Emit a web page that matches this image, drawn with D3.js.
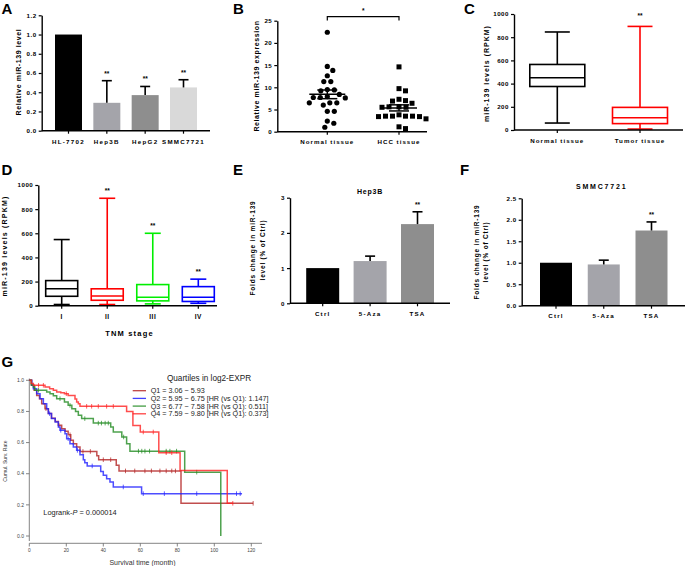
<!DOCTYPE html>
<html><head><meta charset="utf-8">
<script src="https://cdn.jsdelivr.net/npm/d3@7"></script>
<style>html,body{margin:0;padding:0;background:#fff}svg{display:block}</style>
</head><body>
<svg id="fig" width="685" height="566" xmlns="http://www.w3.org/2000/svg"></svg>
<script>
// ================= DATA =================
// Panel A
const cellLines = ["HL-7702", "Hep3B", "HepG2", "SMMC7721"];
const cellMeans = [1.0, 0.29, 0.37, 0.45];
const cellErr   = [0, 0.23, 0.09, 0.08];
const cellSig   = ["", "**", "**", "**"];
const aTicks    = [0, 0.2, 0.4, 0.6, 0.8, 1.0, 1.2];
// Panel B
const tissueGroups = ["Normal tissue", "HCC tissue"];
const normalValues = [22.4, 14.7, 13.8, 12.6, 11.3, 11.3, 9.2, 9.4, 9.5, 7.7, 7.7, 8.4, 7.9, 7.6, 6.5, 6.5, 6.0, 6.5, 4.6, 4.6, 2.4, 1.9, 1.0];
const hccValues    = [14.6, 9.2, 9.7, 7.3, 6.9, 6.4, 7.0, 5.6, 5.5, 5.6, 5.5, 3.5, 3.5, 3.4, 3.8, 3.4, 3.5, 3.5, 2.9, 0.7, 1.1];
const bTicks = [0, 5, 10, 15, 20, 25];
// Panel C
const cGroups = ["Normal tissue", "Tumor tissue"];
const cMin = [60, 8], cQ1 = [375, 55], cMed = [450, 105], cQ3 = [565, 195], cMax = [845, 893];
const cSig = ["", "**"];
const cTicks = [0, 200, 400, 600, 800, 1000];
// Panel D
const stages = ["I", "II", "III", "IV"];
const dMin = [10, 10, 15, 20], dQ1 = [78, 45, 40, 35], dMed = [140, 80, 70, 70], dQ3 = [208, 140, 175, 158], dMax = [548, 890, 600, 220];
const dSig = ["", "**", "**", "**"];
// Panels E, F
const treatments = ["Ctrl", "5-Aza", "TSA"];
const hep3bMeans = [1.0, 1.2, 2.25], hep3bErr = [0, 0.14, 0.35];
const smmcMeans  = [1.0, 0.96, 1.75], smmcErr = [0, 0.1, 0.2];
const trtSig = ["", "", "**"];
const eTicks = [0, 1, 2, 3];
const fTicks = [0, 0.5, 1.0, 1.5, 2.0, 2.5];
// Panel G (Kaplan-Meier)
const quartileLabels = ["Q1 = 3.06 ~ 5.93", "Q2 = 5.95 ~ 6.75 [HR (vs Q1): 1.147]", "Q3 = 6.77 ~ 7.58 [HR (vs Q1): 0.511]", "Q4 = 7.59 ~ 9.80 [HR (vs Q1): 0.373]"];
const q1Time = [0, 1.3, 2.6, 4, 5.5, 6.7, 8.5, 10.3, 12, 14, 15.7, 17.5, 19.3, 21, 22.4, 23.8, 25.6, 27.4, 36.5, 37.5, 47, 48.5, 82, 121];
const q1Surv = [1, 0.968, 0.936, 0.903, 0.882, 0.85, 0.818, 0.786, 0.757, 0.736, 0.711, 0.689, 0.672, 0.65, 0.615, 0.593, 0.572, 0.543, 0.515, 0.49, 0.454, 0.418, 0.21, 0.21];
const q1Censor = [9, 16, 22, 29, 33, 40, 44, 52, 57, 62.5, 66, 70.6, 74, 77, 79, 121];
const q2Time = [0, 1.3, 2.2, 4, 5.8, 7.6, 9.4, 10.3, 12, 14, 15.7, 16.6, 19.3, 20.2, 22, 23.8, 25.6, 27.4, 29.2, 30, 31.3, 38.6, 40, 41.8, 43.6, 45.4, 60.7, 115];
const q2Surv = [1, 0.968, 0.946, 0.914, 0.882, 0.85, 0.818, 0.786, 0.754, 0.732, 0.7, 0.679, 0.657, 0.625, 0.593, 0.572, 0.55, 0.522, 0.49, 0.47, 0.45, 0.415, 0.39, 0.368, 0.347, 0.315, 0.272, 0.272];
const q2Censor = [11, 17, 21, 26, 34, 50.8, 61.6, 73, 90.5, 112, 114];
const q3Time = [0, 1, 2.2, 3, 9.4, 11.2, 13, 14.8, 19, 21, 23, 25, 26.5, 28.3, 34.6, 44, 45.4, 50, 52.6, 54.4, 84, 103.5];
const q3Surv = [1, 0.97, 0.957, 0.936, 0.925, 0.914, 0.9, 0.882, 0.861, 0.839, 0.818, 0.8, 0.775, 0.754, 0.725, 0.7, 0.668, 0.636, 0.593, 0.545, 0.41, 0];
const q3Censor = [5, 16.6, 22, 30, 37.3, 39, 41, 42.7, 51, 59, 60.8, 62.5, 65, 74, 76, 79.6, 90.5];
const q4Time = [0, 1, 2.2, 8.5, 11, 13, 14.8, 17, 19, 21, 24.7, 25.6, 26.5, 27.4, 52.6, 56, 60, 70, 81.5, 107, 110];
const q4Surv = [1, 0.98, 0.968, 0.957, 0.946, 0.936, 0.925, 0.92, 0.914, 0.903, 0.88, 0.86, 0.85, 0.833, 0.80, 0.71, 0.668, 0.535, 0.42, 0.21, 0.21];
const q4Censor = [5, 7.6, 20, 31, 33.7, 37.3, 41.8, 45.4, 61.6, 67, 74, 77, 110];
const kmXTicks = [0, 20, 40, 60, 80, 100, 120];
const kmYTicks = [0, 0.2, 0.4, 0.6, 0.8, 1.0];

// ================= STYLE =================
const FONT = "'Liberation Sans', Arial, Helvetica, sans-serif";
const barColorsA = ["#000000", "#a4a4aa", "#8e8e8e", "#d9d9d9"];
const barColorsEF = ["#000000", "#a4a4aa", "#8e8e8e"];
const stageColors = ["#000000", "#ff0000", "#00ee00", "#0000ff"];
const tissueBoxColors = ["#000000", "#ff0000"];
const kmColors = ["#b22222", "#2020ff", "#228b22", "#ff2020"];

const svg = d3.select("#fig").attr("font-family", FONT);

function txt(g, x, y, s, o = {}) {
  const t = g.append("text").attr("x", x).attr("y", y).text(s)
    .attr("font-size", o.fs || 7).attr("font-weight", o.w || "bold")
    .attr("text-anchor", o.anchor || "middle").attr("fill", o.fill || "#000");
  if (o.ls) t.style("letter-spacing", o.ls + "px");
  if (o.rot) t.attr("transform", `rotate(-90,${x},${y})`);
  if (o.dy) t.attr("dy", o.dy);
  return t;
}
function ln(g, x1, y1, x2, y2, color = "#000", sw = 1.4) {
  return g.append("line").attr("x1", x1).attr("y1", y1).attr("x2", x2).attr("y2", y2)
    .attr("stroke", color).attr("stroke-width", sw);
}
function leftAxis(g, x, scale, ticks, fmt, fs = 6.2) {
  const ax = g.append("g").attr("transform", `translate(${x},0)`)
    .call(d3.axisLeft(scale).tickValues(ticks).tickFormat(fmt).tickSize(3).tickSizeOuter(0).tickPadding(2));
  ax.attr("font-family", FONT).attr("font-size", fs);
  ax.select(".domain").attr("stroke", "#000").attr("stroke-width", 1.4);
  ax.selectAll(".tick line").attr("stroke", "#000").attr("stroke-width", 1.2);
  ax.selectAll(".tick text").attr("font-weight", "bold").attr("fill", "#000").style("letter-spacing", "0.5px");
  return ax;
}
function bottomAxis(g, x0, x1, y, scale, cats, labelY, fs, ls) {
  ln(g, x0, y, x1, y, "#000", 1.4);
  cats.forEach(c => {
    ln(g, scale(c), y, scale(c), y + 3, "#000", 1.2);
    txt(g, scale(c), labelY, c, { fs: fs, ls: ls });
  });
}
function letter(x, y, s) { txt(svg, x, y, s, { fs: 15, anchor: "start" }); }

function barPanel(g, cats, means, errs, sigs, colors, x, y, bw, capW) {
  cats.forEach((c, i) => {
    const cx = x(c);
    g.append("rect").attr("x", cx - bw / 2).attr("y", y(means[i])).attr("width", bw)
      .attr("height", y(0) - y(means[i])).attr("fill", colors[i]);
    if (errs[i] > 0) {
      const top = y(means[i] + errs[i]);
      ln(g, cx, y(means[i]), cx, top, "#000", 1.6);
      ln(g, cx - capW / 2, top, cx + capW / 2, top, "#000", 1.6);
    }
    if (sigs[i]) txt(g, cx, y(means[i] + errs[i]) - 5, sigs[i], { fs: 6.5 });
  });
}
function boxPlot(g, cx, w, capW, y, mn, q1, md, q3, mx, color) {
  const sw = 1.6;
  ln(g, cx, y(q3), cx, y(mx), color, sw);
  ln(g, cx - capW / 2, y(mx), cx + capW / 2, y(mx), color, sw);
  ln(g, cx, y(q1), cx, y(mn), color, sw);
  ln(g, cx - capW / 2, y(mn), cx + capW / 2, y(mn), color, sw);
  g.append("rect").attr("x", cx - w / 2).attr("y", y(q3)).attr("width", w).attr("height", y(q1) - y(q3))
    .attr("fill", "#fff").attr("stroke", color).attr("stroke-width", sw);
  ln(g, cx - w / 2, y(md), cx + w / 2, y(md), color, sw);
}

// ================= PANEL A =================
{
  const g = svg.append("g");
  letter(1.5, 13.5, "A");
  const y = d3.scaleLinear().domain([0, 1.2]).range([130.7, 15.3]);
  const x = d3.scalePoint().domain(cellLines).range([68.5, 183.5]);
  barPanel(g, cellLines, cellMeans, cellErr, cellSig, barColorsA, x, y, 27, 10);
  leftAxis(g, 41.7, y, aTicks, d3.format(".1f"));
  bottomAxis(g, 41.7, 210, 130.7, x, cellLines, 143.5, 6.2, 1.3);
  txt(g, 21, 72, "Relative miR-139 level", { fs: 7, ls: 0.6, rot: true });
}
// ================= PANEL B =================
{
  const g = svg.append("g");
  letter(233, 13.5, "B");
  const y = d3.scaleLinear().domain([0, 25]).range([131.7, 20.7]);
  const x = d3.scalePoint().domain(tissueGroups).range([327.3, 399]);
  function swarm(vals, d) {
    const order = vals.map((v, i) => i).sort((a, b) => vals[b] - vals[a]);
    const placed = [], off = [];
    for (const i of order) {
      const py = y(vals[i]);
      let o = 0;
      for (let k = 0; k < 200; k++) {
        const cand = k === 0 ? 0 : (k % 2 ? 1 : -1) * Math.ceil(k / 2) * 0.5;
        if (placed.every(p => (cand - p.o) ** 2 + (py - p.y) ** 2 >= d * d)) { o = cand; break; }
      }
      placed.push({ o, y: py }); off[i] = o;
    }
    return off;
  }
  const groups = [normalValues, hccValues];
  groups.forEach((vals, gi) => {
    const cx = x(tissueGroups[gi]);
    const off = swarm(vals, 6.6);
    vals.forEach((v, i) => {
      if (gi === 0) g.append("circle").attr("cx", cx + off[i]).attr("cy", y(v)).attr("r", 2.6).attr("fill", "#000");
      else g.append("rect").attr("x", cx + off[i] - 2.5).attr("y", y(v) - 2.5).attr("width", 5).attr("height", 5).attr("fill", "#000");
    });
    const m = d3.mean(vals), sem = d3.deviation(vals) / Math.sqrt(vals.length);
    ln(g, cx - 18, y(m), cx + 18, y(m), "#000", 1.5);
    ln(g, cx, y(m - sem), cx, y(m + sem), "#000", 1.5);
    ln(g, cx - 10, y(m + sem), cx + 10, y(m + sem), "#000", 1.5);
    ln(g, cx - 10, y(m - sem), cx + 10, y(m - sem), "#000", 1.5);
  });
  leftAxis(g, 277.3, y, bTicks, d3.format("d"));
  bottomAxis(g, 277.3, 427, 131.7, x, tissueGroups, 144, 6.2, 1.0);
  g.append("path").attr("d", `M${x(tissueGroups[0])},20.5V16.7H${x(tissueGroups[1])}V20.5`)
    .attr("fill", "none").attr("stroke", "#000").attr("stroke-width", 1.2);
  txt(g, (x(tissueGroups[0]) + x(tissueGroups[1])) / 2, 13, "*", { fs: 6.5 });
  txt(g, 259.3, 76, "Relative miR-139 expression", { fs: 7, ls: 0.6, rot: true });
}
// ================= PANEL C =================
{
  const g = svg.append("g");
  letter(464, 13.5, "C");
  const y = d3.scaleLinear().domain([0, 1000]).range([130, 14]);
  const x = d3.scalePoint().domain(cGroups).range([557.3, 640]);
  cGroups.forEach((c, i) => {
    boxPlot(g, x(c), 55, 25, y, cMin[i], cQ1[i], cMed[i], cQ3[i], cMax[i], tissueBoxColors[i]);
    if (cSig[i]) txt(g, x(c), 18, cSig[i], { fs: 6.5 });
  });
  leftAxis(g, 514, y, cTicks, d3.format("d"));
  bottomAxis(g, 514, 683, 130, x, cGroups, 143, 6.2, 1.0);
  txt(g, 489.3, 73.5, "miR-139 levels (RPKM)", { fs: 7, ls: 1.0, rot: true });
}
// ================= PANEL D =================
{
  const g = svg.append("g");
  letter(1.5, 175, "D");
  const y = d3.scaleLinear().domain([0, 1000]).range([305.7, 185]);
  const x = d3.scalePoint().domain(stages).range([61.7, 198.3]);
  stages.forEach((c, i) => {
    boxPlot(g, x(c), 32, 16, y, dMin[i], dQ1[i], dMed[i], dQ3[i], dMax[i], stageColors[i]);
    if (dSig[i]) txt(g, x(c), y(dMax[i]) - 5, dSig[i], { fs: 6.5 });
  });
  leftAxis(g, 38.3, y, cTicks, d3.format("d"));
  bottomAxis(g, 38.3, 217, 305.7, x, stages, 319, 6.5, 0.5);
  txt(g, 6.5, 246, "miR-139 levels (RPKM)", { fs: 7, ls: 1.2, rot: true });
  txt(g, 129.5, 335.5, "TNM stage", { fs: 7.5, ls: 1.2 });
}
// ================= PANEL E =================
{
  const g = svg.append("g");
  letter(233, 175, "E");
  const y = d3.scaleLinear().domain([0, 3]).range([303.3, 197.7]);
  const x = d3.scalePoint().domain(treatments).range([322.7, 417.5]);
  barPanel(g, treatments, hep3bMeans, hep3bErr, trtSig, barColorsEF, x, y, 33, 10);
  leftAxis(g, 290, y, eTicks, d3.format("d"));
  bottomAxis(g, 290, 450, 303.3, x, treatments, 316, 6.2, 1.2);
  txt(g, 370, 194, "Hep3B", { fs: 7, ls: 0.8 });
  txt(g, 255, 248, "Folds change in miR-139", { fs: 6.5, ls: 0.8, rot: true });
  txt(g, 264.5, 250, "level (% of Ctrl)", { fs: 6.5, ls: 0.8, rot: true });
}
// ================= PANEL F =================
{
  const g = svg.append("g");
  letter(460, 175, "F");
  const y = d3.scaleLinear().domain([0, 2.5]).range([305.7, 198.3]);
  const x = d3.scalePoint().domain(treatments).range([556, 651.5]);
  barPanel(g, treatments, smmcMeans, smmcErr, trtSig, barColorsEF, x, y, 32, 10);
  leftAxis(g, 521.7, y, fTicks, d3.format(".1f"));
  bottomAxis(g, 521.7, 685, 305.7, x, treatments, 318, 6.2, 1.2);
  txt(g, 601.7, 188.5, "SMMC7721", { fs: 7, ls: 1.8 });
  txt(g, 478.5, 252, "Folds change in miR-139", { fs: 6.5, ls: 0.8, rot: true });
  txt(g, 488.3, 252, "level (% of Ctrl)", { fs: 6.5, ls: 0.8, rot: true });
}
// ================= PANEL G =================
{
  const g = svg.append("g");
  letter(1.5, 366.5, "G");
  const x = d3.scaleLinear().domain([0, 120]).range([29.3, 251.3]);
  const y = d3.scaleLinear().domain([0, 1]).range([536, 380.3]);
  const axc = "#666";
  ln(g, 29.3, 543.3, 262, 543.3, axc, 0.8);
  kmXTicks.forEach(t => {
    ln(g, x(t), 543.3, x(t), 546.5, axc, 0.8);
    txt(g, x(t), 552, String(t), { fs: 4.8, w: "normal", fill: "#444" });
  });
  ln(g, 29.3, 378.5, 29.3, 541, axc, 0.8);
  kmYTicks.forEach(t => {
    ln(g, 26, y(t), 29.3, y(t), axc, 0.8);
    txt(g, 24, y(t), d3.format(".1f")(t), { fs: 5, w: "normal", fill: "#444", anchor: "end", dy: "0.35em" });
  });
  txt(g, 142.5, 565, "Survival time (month)", { fs: 7, w: "normal", fill: "#333" });
  txt(g, 7, 461, "Cumul. Surv. Rate", { fs: 5.1, w: "normal", fill: "#333", rot: true });

  const curves = [[q1Time, q1Surv, q1Censor], [q2Time, q2Surv, q2Censor], [q3Time, q3Surv, q3Censor], [q4Time, q4Surv, q4Censor]];
  const line = d3.line().x(d => x(d[0])).y(d => y(d[1])).curve(d3.curveStepAfter);
  curves.forEach(([t, s, cens], i) => {
    const pts = t.map((tt, k) => [tt, s[k]]);
    g.append("path").attr("d", line(pts)).attr("fill", "none").attr("stroke", kmColors[i])
      .attr("stroke-width", 1.5).attr("stroke-opacity", 0.8);
    cens.forEach(ct => {
      let k = 0;
      while (k + 1 < t.length && t[k + 1] <= ct) k++;
      const yy = y(s[k]);
      ln(g, x(ct), yy - 2.3, x(ct), yy + 2.3, kmColors[i], 0.9).attr("stroke-opacity", 0.8);
    });
  });
  txt(g, 209, 381, "Quartiles in log2-EXPR", { fs: 8.2, w: "normal", fill: "#222" });
  quartileLabels.forEach((lab, i) => {
    const yy = 390.7 + i * 7.7;
    ln(g, 132.7, yy, 146, yy, kmColors[i], 1.3).attr("stroke-opacity", 0.85);
    txt(g, 150.7, yy, lab, { fs: 7.2, w: "normal", fill: "#222", anchor: "start", dy: "0.35em" });
  });
  const lt = g.append("text").attr("x", 43.3).attr("y", 515).attr("font-size", 7.4).attr("fill", "#222");
  lt.append("tspan").text("Logrank-");
  lt.append("tspan").attr("font-style", "italic").text("P");
  lt.append("tspan").text(" = 0.000014");
}
</script>
</body></html>
